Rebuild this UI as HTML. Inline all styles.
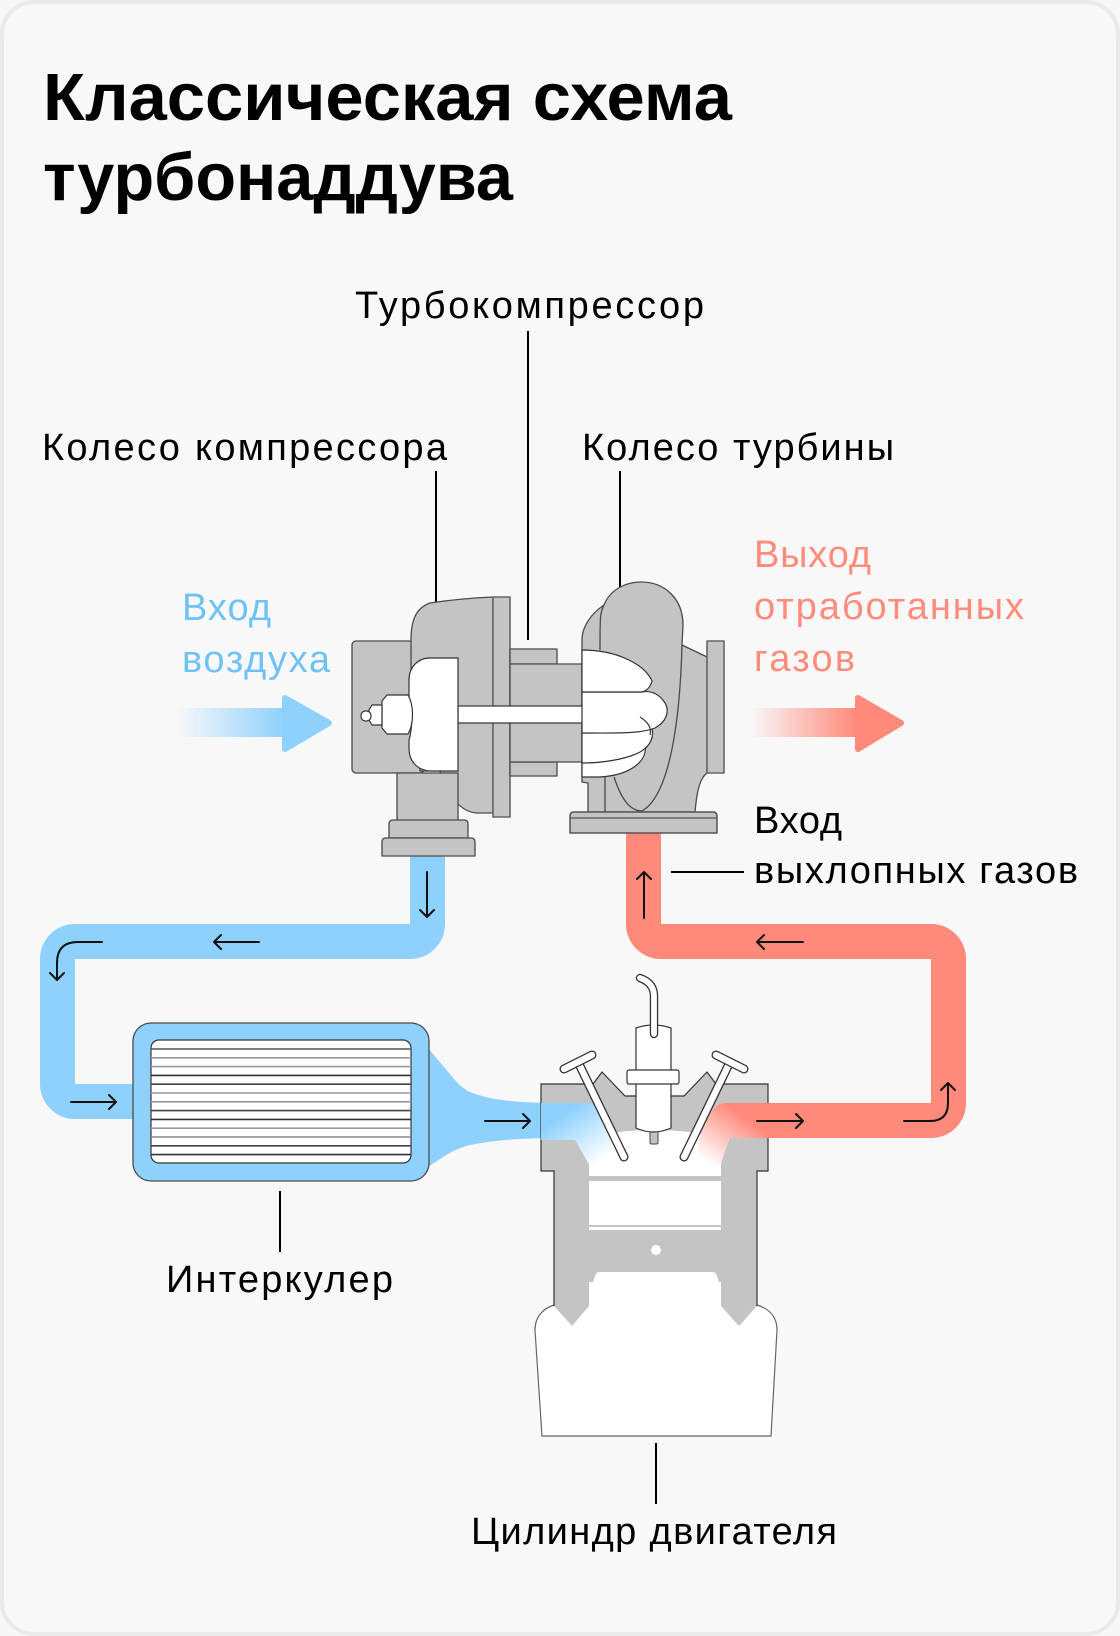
<!DOCTYPE html>
<html lang="ru">
<head>
<meta charset="utf-8">
<style>
  html,body{margin:0;padding:0;background:#f7f7f7;}
  body{width:1120px;height:1636px;overflow:hidden;}
  svg{display:block;}
  text{font-family:"Liberation Sans","DejaVu Sans",sans-serif;}
</style>
</head>
<body>
<svg width="1120" height="1636" viewBox="0 0 1120 1636" xmlns="http://www.w3.org/2000/svg">
  <defs>
    <linearGradient id="gArrowB" gradientUnits="userSpaceOnUse" x1="176" y1="0" x2="284" y2="0">
      <stop offset="0" stop-color="#8fd1fd" stop-opacity="0"/>
      <stop offset="1" stop-color="#8fd1fd" stop-opacity="1"/>
    </linearGradient>
    <linearGradient id="gArrowR" gradientUnits="userSpaceOnUse" x1="751" y1="0" x2="857" y2="0">
      <stop offset="0" stop-color="#ff897a" stop-opacity="0"/>
      <stop offset="1" stop-color="#ff897a" stop-opacity="1"/>
    </linearGradient>
    <linearGradient id="gPortB" gradientUnits="userSpaceOnUse" x1="568" y1="1112" x2="602" y2="1160">
      <stop offset="0" stop-color="#8fd1fd"/>
      <stop offset="1" stop-color="#ffffff"/>
    </linearGradient>
    <linearGradient id="gPortR" gradientUnits="userSpaceOnUse" x1="738" y1="1112" x2="704" y2="1160">
      <stop offset="0" stop-color="#ff897a"/>
      <stop offset="1" stop-color="#ffffff"/>
    </linearGradient>
  </defs>

  <!-- card -->
  <rect x="2" y="2" width="1116" height="1632" rx="32" ry="32" fill="#f8f8f8" stroke="#eaeaea" stroke-width="4"/>

  <!-- title -->
  <text x="43" y="120" font-size="67" font-weight="700" fill="#000" textLength="689" lengthAdjust="spacingAndGlyphs">Классическая схема</text>
  <text x="43" y="200" font-size="67" font-weight="700" fill="#000" textLength="470" lengthAdjust="spacingAndGlyphs">турбонаддува</text>

  <!-- labels -->
  <text x="355" y="318" font-size="38" fill="#000" textLength="349" lengthAdjust="spacing">Турбокомпрессор</text>
  <text x="42" y="460" font-size="38" fill="#000" textLength="405" lengthAdjust="spacing">Колесо компрессора</text>
  <text x="582" y="460" font-size="38" fill="#000" textLength="312" lengthAdjust="spacing">Колесо турбины</text>

  <text x="182" y="620" font-size="38" fill="#70c1f5" textLength="89" lengthAdjust="spacing">Вход</text>
  <text x="182" y="672" font-size="38" fill="#70c1f5" textLength="148" lengthAdjust="spacing">воздуха</text>

  <text x="754" y="567" font-size="38" fill="#ff8b7b" textLength="117" lengthAdjust="spacing">Выход</text>
  <text x="754" y="619" font-size="38" fill="#ff8b7b" textLength="270" lengthAdjust="spacing">отработанных</text>
  <text x="754" y="671" font-size="38" fill="#ff8b7b" textLength="101" lengthAdjust="spacing">газов</text>

  <text x="754" y="833" font-size="38" fill="#000" textLength="88" lengthAdjust="spacing">Вход</text>
  <text x="754" y="883" font-size="38" fill="#000" textLength="324" lengthAdjust="spacing">выхлопных газов</text>

  <text x="166" y="1292" font-size="38" fill="#000" textLength="227" lengthAdjust="spacing">Интеркулер</text>
  <text x="471" y="1544" font-size="38" fill="#000" textLength="366" lengthAdjust="spacing">Цилиндр двигателя</text>

  <!-- leader lines -->
  <g stroke="#000" stroke-width="2" fill="none">
    <line x1="528" y1="331" x2="528" y2="640"/>
    <line x1="436" y1="471" x2="436" y2="672"/>
    <line x1="620" y1="471" x2="620" y2="673"/>
    <line x1="671" y1="872" x2="744" y2="872"/>
    <line x1="280" y1="1191" x2="280" y2="1252"/>
    <line x1="656" y1="1443" x2="656" y2="1504"/>
  </g>

  <!-- big arrows -->
  <rect x="176" y="708" width="110" height="29" fill="url(#gArrowB)"/>
  <polygon points="285,698 329,723 285,749" fill="#8fd1fd" stroke="#8fd1fd" stroke-width="6" stroke-linejoin="round"/>
  <rect x="751" y="708" width="108" height="29" fill="url(#gArrowR)"/>
  <polygon points="858,698 901,723 858,749" fill="#ff897a" stroke="#ff897a" stroke-width="6" stroke-linejoin="round"/>

  <!-- blue pipe -->
  <path d="M427.5,850 L427.5,924 A17.5,17.5 0 0 1 410,941.5 L75,941.5 A17.5,17.5 0 0 0 57.5,959 L57.5,1084 A17.5,17.5 0 0 0 75,1101.5 L145,1101.5" fill="none" stroke="#8fd1fd" stroke-width="35"/>
  <!-- funnel -->
  <path d="M420,1040 C445,1065 455,1085 470,1092 C490,1100 515,1103 560,1103 L560,1138 C515,1138 490,1141 470,1145 C450,1150 440,1160 420,1172 Z" fill="#8fd1fd"/>

  <!-- red pipe -->
  <path d="M643.5,828 L643.5,924 A17.5,17.5 0 0 0 661,941.5 L931,941.5 A17.5,17.5 0 0 1 948.5,959 L948.5,1103 A17.5,17.5 0 0 1 931,1120.5 L760,1120.5" fill="none" stroke="#ff897a" stroke-width="35"/>

  <!-- intercooler -->
  <rect x="133" y="1023" width="296" height="158" rx="18" ry="18" fill="#8fd1fd" stroke="#4a4a4a" stroke-width="1.3"/>
  <rect x="151" y="1040" width="260" height="123" rx="8" ry="8" fill="#ffffff" stroke="#333" stroke-width="1.2"/>
  <g stroke-width="1.6">
    <line x1="151" y1="1049" x2="411" y2="1049" stroke="#555"/>
    <line x1="151" y1="1057.8" x2="411" y2="1057.8" stroke="#9a9a9a"/>
    <line x1="151" y1="1066.6" x2="411" y2="1066.6" stroke="#9a9a9a"/>
    <line x1="151" y1="1075.4" x2="411" y2="1075.4" stroke="#333"/>
    <line x1="151" y1="1084.2" x2="411" y2="1084.2" stroke="#444"/>
    <line x1="151" y1="1093" x2="411" y2="1093" stroke="#9a9a9a"/>
    <line x1="151" y1="1101.8" x2="411" y2="1101.8" stroke="#9a9a9a"/>
    <line x1="151" y1="1110.6" x2="411" y2="1110.6" stroke="#444"/>
    <line x1="151" y1="1119.4" x2="411" y2="1119.4" stroke="#333"/>
    <line x1="151" y1="1128.2" x2="411" y2="1128.2" stroke="#9a9a9a"/>
    <line x1="151" y1="1137" x2="411" y2="1137" stroke="#888"/>
    <line x1="151" y1="1145.8" x2="411" y2="1145.8" stroke="#444"/>
    <line x1="151" y1="1154.6" x2="411" y2="1154.6" stroke="#333"/>
  </g>

  <!-- ===== Turbocharger: compressor side ===== -->
  <g stroke="#4a4a4a" stroke-width="1.3" fill="#c4c4c4" stroke-linejoin="round">
    <rect x="352" y="641" width="72" height="132" rx="4" ry="4"/>
    <path d="M430,603 C416,608 411,620 411,640 L411,700 L420,771 L440,771 C450,800 462,812 477,813 L493,813 L493,597 C470,598 450,600 430,603 Z"/>
    <rect x="397" y="773" width="61" height="48"/>
    <path d="M389,838 L389,824 Q389,820 393,820 L464,820 Q468,820 468,824 L468,838 Z"/>
    <path d="M382,856 L382,842 Q382,838 386,838 L471,838 Q475,838 475,842 L475,856 Z"/>
    <rect x="493" y="597" width="17" height="220" stroke="#666" stroke-width="1.6"/>
    <rect x="510" y="649" width="47" height="15"/>
    <rect x="510" y="762" width="47" height="14"/>
    <rect x="510" y="664" width="72" height="98"/>
  </g>

  <!-- ===== Turbine side ===== -->
  <g stroke="#4a4a4a" stroke-width="1.3" fill="#c4c4c4" stroke-linejoin="round">
    <path d="M588,812 L588,783 L582,782 L582,640 C582,626 592,613 604,605 C610,590 625,582 641,582 C666,582 683,600 683,625 L682,645 L707,657 L707,773 C700,778 697,790 695,812 Z"/>
    <path d="M604,605 C600,612 600,618 600,650" fill="none"/>
    <path d="M682,645 C680,720 670,795 642,811 C628,811 620,795 614,777" fill="none"/>
    <line x1="605" y1="777" x2="605" y2="812"/>
    <rect x="707" y="641" width="17" height="132" stroke="#666" stroke-width="1.6"/>
    <path d="M570,833 L570,816 Q570,812 574,812 L713,812 Q717,812 717,816 L717,833 Z" stroke="#555" stroke-width="1.5"/>
    <line x1="570" y1="818" x2="717" y2="818" stroke="#555" stroke-width="1.3"/>
  </g>

  <!-- shaft -->
  <rect x="458" y="706" width="126" height="17" fill="#ffffff" stroke="#333" stroke-width="1.2"/>

  <!-- compressor wheel -->
  <g fill="#ffffff" stroke="#333" stroke-width="1.2" stroke-linejoin="round">
    <path d="M430,658 L458,658 L458,771 L432,771 C418,771 409,762 409,748 L409,740 C412,730 413,715 409,700 L409,680 C409,667 418,658 430,658 Z"/>
    <path d="M387,695 L408,695 C414,705 414,724 408,734 L387,734 L382,728 L382,701 Z"/>
    <path d="M372,705 L382,705 L382,725 L372,725 L369,720 L369,710 Z"/>
    <rect x="361" y="711" width="10" height="10" rx="4.5" ry="4.5"/>
  </g>

  <!-- turbine wheel -->
  <g fill="#ffffff" stroke="#333" stroke-width="1.2" stroke-linejoin="round">
    <path d="M582,763 C605,763 625,760 645,745 C648,760 632,775 600,777 L582,777 Z"/>
    <path d="M582,733 C610,733 635,730 650,722 C656,735 651,746 640,752 C625,760 600,763 582,763 Z"/>
    <path d="M582,692 L642,692 C652,690 660,695 665,703 C670,712 666,722 655,728 C640,734 615,733 582,733 Z"/>
    <path d="M582,650 C618,650 645,665 652,681 C650,688 646,691 642,692 L582,692 Z"/>
    <path d="M640,717 C648,722 652,728 650,735" fill="none"/>
  </g>

  <!-- ===== Engine ===== -->
  <path d="M554,1305 C545,1308 535,1315 535,1330 L542,1436 L771,1436 L777,1330 C777,1315 767,1308 757,1305 Z" fill="#ffffff" stroke="#666" stroke-width="1.2"/>
  <path d="M541,1084 L593,1084 L602,1072 L625,1096 L684,1096 L707,1072 L716,1084 L768,1084 L768,1171 L757,1171 L757,1306 L739,1326 L721,1306 L589,1306 L572,1326 L554,1306 L554,1171 L541,1171 Z" fill="#c4c4c4"/>
  <path d="M554,1306 L554,1171 L541,1171 L541,1084 L593,1084 L602,1072 L625,1096 L684,1096 L707,1072 L716,1084 L768,1084 L768,1171 L757,1171 L757,1306" fill="none" stroke="#333" stroke-width="1.2" stroke-linejoin="miter"/>
  <path d="M589,1176 L589,1163 L580,1139 Q654,1121 729,1139 L721,1163 L721,1176 Z" fill="#ffffff"/>
  <rect x="589" y="1181" width="132" height="44" fill="#ffffff"/>
  <rect x="589" y="1227" width="132" height="3" fill="#ffffff"/>
  <circle cx="656" cy="1250" r="5" fill="#ffffff"/>
  <path d="M589,1309 L589,1282 L593,1282 L595,1276 Q596,1272 600,1272 L712,1272 Q716,1272 717,1276 L719,1282 L721,1282 L721,1309 Z" fill="#ffffff"/>

  <!-- ports -->
  <path d="M541,1103 L585,1103 Q595,1103 600,1112 L612,1140 L612,1166 L590,1166 L575,1140 L541,1140 Z" fill="url(#gPortB)"/>
  <path d="M770,1103 L727,1103 Q716,1103 711,1112 L698,1140 L698,1166 L720,1166 L729,1138 L770,1138 Z" fill="url(#gPortR)"/>

  <!-- valves -->
  <g fill="none" stroke-linecap="round">
    <line x1="578" y1="1062" x2="624" y2="1157" stroke="#333" stroke-width="9"/>
    <line x1="578" y1="1062" x2="624" y2="1157" stroke="#fff" stroke-width="6.4"/>
    <line x1="564" y1="1069" x2="592" y2="1055" stroke="#333" stroke-width="9"/>
    <line x1="564" y1="1069" x2="592" y2="1055" stroke="#fff" stroke-width="6.4"/>
    <line x1="730" y1="1062" x2="684" y2="1157" stroke="#333" stroke-width="9"/>
    <line x1="730" y1="1062" x2="684" y2="1157" stroke="#fff" stroke-width="6.4"/>
    <line x1="744" y1="1069" x2="716" y2="1055" stroke="#333" stroke-width="9"/>
    <line x1="744" y1="1069" x2="716" y2="1055" stroke="#fff" stroke-width="6.4"/>
  </g>
  <circle cx="578" cy="1062" r="3" fill="#fff"/>
  <circle cx="730" cy="1062" r="3" fill="#fff"/>

  <!-- spark plug -->
  <rect x="650" y="1130" width="8" height="14" rx="1.5" fill="#c4c4c4" stroke="#444" stroke-width="1"/>
  <path d="M636,1028 Q653,1022 671,1028 L671,1128 Q653,1136 636,1128 Z" fill="#ffffff" stroke="#333" stroke-width="1.2"/>
  <rect x="627" y="1070" width="52" height="14" rx="2" fill="#ffffff" stroke="#333" stroke-width="1.2"/>
  <g fill="none" stroke-linecap="round" stroke-linejoin="round">
    <path d="M654,1034 L654,996 Q654,983 640,978" stroke="#333" stroke-width="8.4"/>
    <path d="M654,1034 L654,996 Q654,983 640,978" stroke="#fff" stroke-width="5.8"/>
  </g>

  <!-- small flow arrows -->
  <g fill="none" stroke="#111" stroke-width="2" stroke-linecap="round" stroke-linejoin="round">
    <path d="M427,872 L427,917 M420,910 L427,917 L434,910"/>
    <path d="M259,942 L214,942 M221,935 L214,942 L221,949"/>
    <path d="M102,942 L78,942 Q57,942 57,963 L57,980 M50,973 L57,980 L64,973"/>
    <path d="M71,1102 L116,1102 M109,1095 L116,1102 L109,1109"/>
    <path d="M485,1121 L530,1121 M523,1114 L530,1121 L523,1128"/>
    <path d="M644,918 L644,872 M637,879 L644,872 L651,879"/>
    <path d="M803,942 L757,942 M764,935 L757,942 L764,949"/>
    <path d="M757,1121 L803,1121 M796,1114 L803,1121 L796,1128"/>
    <path d="M904,1121 L930,1121 Q948,1121 948,1103 L948,1083 M941,1090 L948,1083 L955,1090"/>
  </g>
</svg>
</body>
</html>
